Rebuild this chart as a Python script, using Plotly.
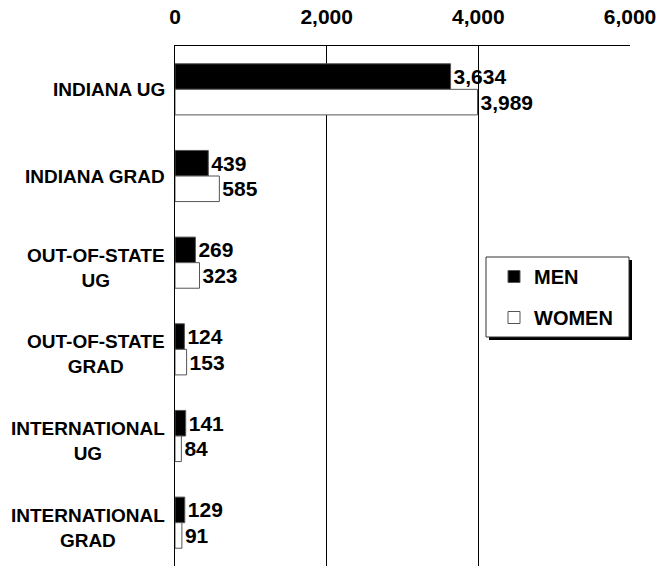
import plotly.graph_objects as go

categories = ["INDIANA UG", "INDIANA GRAD", "OUT-OF-STATE UG", "OUT-OF-STATE GRAD",
              "INTERNATIONAL UG", "INTERNATIONAL GRAD"]
category_labels = ["INDIANA UG", "INDIANA GRAD", "OUT-OF-STATE<br>UG", "OUT-OF-STATE<br>GRAD",
                   "INTERNATIONAL<br>UG", "INTERNATIONAL<br>GRAD"]
men = [3634, 439, 269, 124, 141, 129]
women = [3989, 585, 323, 153, 84, 91]
x_ticks = [0, 2000, 4000, 6000]
x_tick_labels = ["0", "2,000", "4,000", "6,000"]

FONT = "Liberation Sans, Arial, sans-serif"
W, H = 667, 569
L, R, T, B = 175, 630, 46, 566
PW, PH = R - L, B - T

def px_x(p):
    return (p - L) / PW

def px_y(p):
    return (B - p) / PH

fig = go.Figure()
fig.add_trace(go.Bar(
    y=categories, x=men, orientation="h", name="<b>MEN</b>", legendgroup="men",
    marker=dict(color="black", line=dict(color="#555555", width=1)),
    text=[f"<b>{v:,}</b>" for v in men], textposition="outside", cliponaxis=False,
    textfont=dict(family=FONT, size=21, color="black"),
))
fig.add_trace(go.Bar(
    y=categories, x=women, orientation="h", name="<b>WOMEN</b>", legendgroup="women",
    marker=dict(color="white", line=dict(color="#555555", width=1)),
    text=[f"<b>{v:,}</b>" for v in women], textposition="outside", cliponaxis=False,
    textfont=dict(family=FONT, size=21, color="black"),
))

annotations = []
for c, lab in zip(categories, category_labels):
    annotations.append(dict(
        x=0, xref="paper", y=c, yref="y", text=f"<b>{lab}</b>", showarrow=False,
        xanchor="right", align="center", xshift=-8,
        yshift=-5 if "<br>" in lab else 0,
        font=dict(family=FONT, size=19, color="black"),
    ))

# legend box with shadow
shapes = [
    dict(type="rect", xref="paper", yref="paper",
         x0=px_x(489), x1=px_x(632), y0=px_y(340), y1=px_y(260),
         fillcolor="black", line=dict(width=0), layer="above"),
    dict(type="rect", xref="paper", yref="paper",
         x0=px_x(486), x1=px_x(629), y0=px_y(337), y1=px_y(257),
         fillcolor="white", line=dict(color="#333333", width=1), layer="above"),
]

fig.update_layout(
    width=W, height=H,
    margin=dict(l=L, r=W - R, t=T, b=H - B),
    paper_bgcolor="white", plot_bgcolor="white",
    barmode="group", bargap=0.41, bargroupgap=0,
    font=dict(family=FONT, color="black"),
    showlegend=True,
    legend=dict(x=px_x(494), y=px_y(257), xanchor="left", yanchor="top",
                bgcolor="rgba(0,0,0,0)", borderwidth=0,
                font=dict(family=FONT, size=20, color="black"),
                traceorder="grouped", tracegroupgap=12),
    xaxis=dict(side="top", range=[0, 6000], tickvals=x_ticks,
               ticktext=[f"<b>{t}</b>" for t in x_tick_labels],
               tickfont=dict(family=FONT, size=21, color="black"),
               showgrid=True, gridcolor="black", gridwidth=1,
               zeroline=False, showline=True, linecolor="black", mirror=False,
               ticks="outside", ticklen=13, tickcolor="rgba(0,0,0,0)",
               automargin=False),
    yaxis=dict(autorange="reversed", showticklabels=False, ticks="",
               showline=True, linecolor="black", showgrid=False, automargin=False),
    annotations=annotations,
    shapes=shapes,
)
fig.write_html("out.html",
               config={"displayModeBar": False},
               post_script="document.body.style.margin='0';document.body.style.overflow='hidden';")
